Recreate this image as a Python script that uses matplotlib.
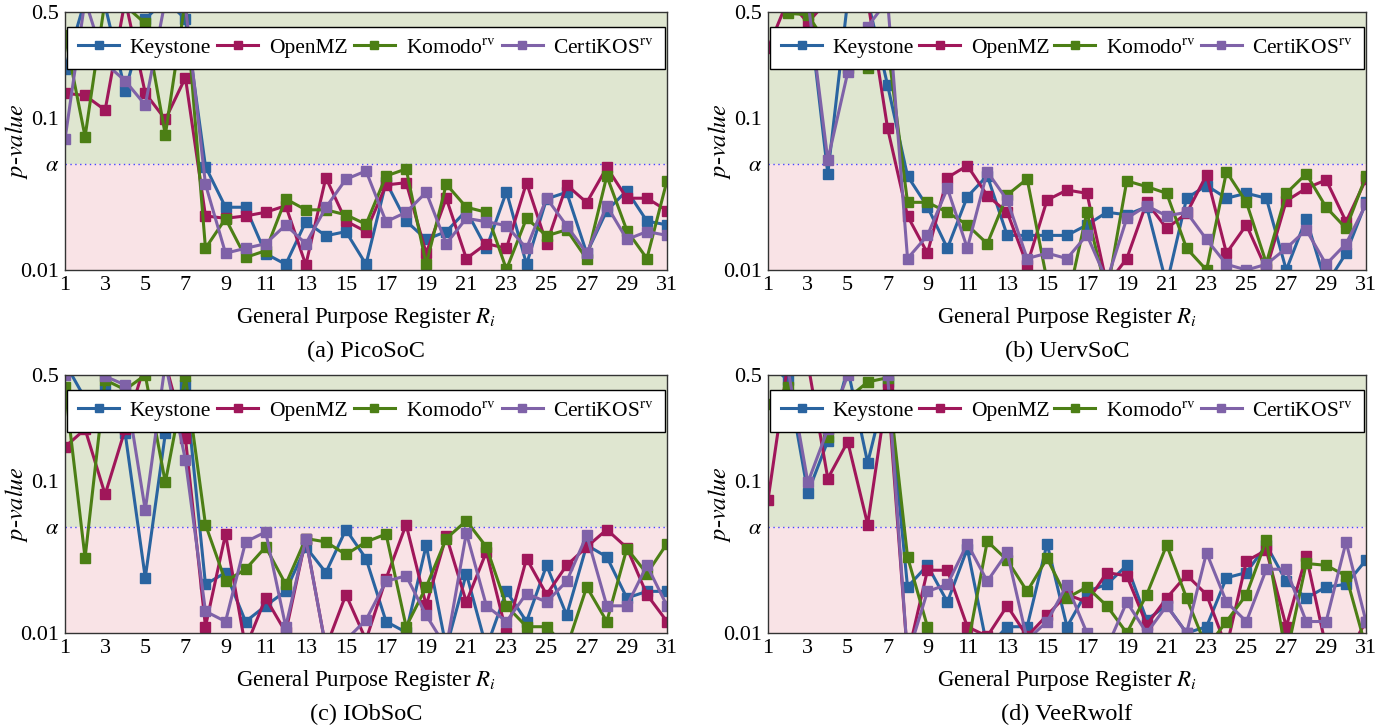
import matplotlib
matplotlib.use("Agg")
import matplotlib.pyplot as plt
import numpy as np

plt.rcParams['font.family'] = 'serif'
plt.rcParams['font.serif'] = ['Liberation Serif', 'DejaVu Serif']
plt.rcParams['mathtext.fontset'] = 'stix'

registers = list(range(1, 32))
series_names = ['Keystone', 'OpenMZ', r'Komodo$^{\mathrm{rv}}$', r'CertiKOS$^{\mathrm{rv}}$']
panel_titles = ['(a) PicoSoC', '(b) UervSoC', '(c) IObSoC', '(d) VeeRwolf']
alpha_level = 0.05
ytick_vals = [0.01, 0.05, 0.1, 0.5]
ytick_labels = ['0.01', r'$\alpha$', '0.1', '0.5']
xtick_vals = list(range(1, 32, 2))

# (a) PicoSoC
pico_keystone = [0.21, 0.6, 0.55, 0.152, 0.45, 0.6, 0.45, 0.048, 0.0259, 0.0259, 0.0128, 0.0109, 0.0208, 0.0168, 0.0179, 0.0109,
                 0.038, 0.021, 0.0159, 0.0179, 0.0246, 0.0139, 0.0328, 0.0109, 0.0294, 0.0325, 0.0129, 0.0246, 0.0333, 0.021, 0.0198]
pico_openmz = [0.146, 0.141, 0.113, 0.6, 0.146, 0.098, 0.185, 0.0227, 0.0219, 0.0227, 0.024, 0.0265, 0.0108, 0.0406, 0.021, 0.0179,
               0.0363, 0.0376, 0.0129, 0.0297, 0.0119, 0.0149, 0.0139, 0.0376, 0.0149, 0.0363, 0.0278, 0.0474, 0.0297, 0.0297, 0.0246]
pico_komodo = [0.353, 0.0755, 0.6, 0.55, 0.42, 0.0775, 0.6, 0.0139, 0.0218, 0.0121, 0.0134, 0.0294, 0.0249, 0.0249, 0.0231, 0.020,
               0.0416, 0.0463, 0.0109, 0.0367, 0.0259, 0.024, 0.0101, 0.0219, 0.0168, 0.0184, 0.0118, 0.0416, 0.0182, 0.0119, 0.0388]
pico_certikos = [0.0726, 0.6, 0.23, 0.176, 0.122, 0.6, 0.55, 0.0367, 0.0129, 0.0139, 0.0149, 0.0198, 0.0149, 0.0258, 0.0396, 0.0449,
                 0.0208, 0.024, 0.0325, 0.0149, 0.0219, 0.0208, 0.0196, 0.0139, 0.0297, 0.0196, 0.0129, 0.0265, 0.0159, 0.0179, 0.0169]

# (b) UervSoC
uerv_keystone = [0.6, 0.6, 0.6, 0.043, 0.6, 0.6, 0.165, 0.0416, 0.0261, 0.0139, 0.0304, 0.0418, 0.0169, 0.0169, 0.0169, 0.0169,
                 0.0198, 0.024, 0.0231, 0.0261, 0.008, 0.0297, 0.036, 0.0297, 0.032, 0.0297, 0.0100, 0.0218, 0.008, 0.0129, 0.0279]
uerv_openmz = [0.288, 0.6, 0.425, 0.6, 0.6, 0.6, 0.0857, 0.0227, 0.0129, 0.0406, 0.0487, 0.0309, 0.024, 0.0108, 0.0289, 0.0336,
               0.032, 0.008, 0.0119, 0.0279, 0.0188, 0.0236, 0.0423, 0.0129, 0.0198, 0.0101, 0.0285, 0.0345, 0.0392, 0.0208, 0.0396]
uerv_komodo = [0.6, 0.49, 0.48, 0.3, 0.213, 0.213, 0.3, 0.0279, 0.0279, 0.024, 0.0198, 0.0149, 0.0312, 0.0398, 0.0085, 0.006,
               0.024, 0.007, 0.0386, 0.0354, 0.032, 0.0139, 0.0100, 0.0444, 0.0279, 0.0111, 0.032, 0.043, 0.0259, 0.0188, 0.0416]
uerv_certikos = [0.6, 0.6, 0.6, 0.053, 0.2, 0.4, 0.6, 0.0119, 0.0169, 0.0345, 0.0139, 0.0444, 0.0289, 0.0119, 0.0129, 0.0119,
                 0.017, 0.0085, 0.0219, 0.0265, 0.0227, 0.024, 0.0159, 0.0109, 0.0100, 0.0109, 0.0139, 0.0184, 0.0109, 0.0149, 0.0271]

# (c) IObSoC
iob_keystone = [0.6, 0.35, 0.4, 0.206, 0.0231, 0.206, 0.43, 0.0209, 0.025, 0.0119, 0.0151, 0.0189, 0.0369, 0.025, 0.048, 0.0309,
                0.0119, 0.0101, 0.0379, 0.008, 0.0246, 0.008, 0.0188, 0.0119, 0.0279, 0.0131, 0.0379, 0.0317, 0.017, 0.0188, 0.0188]
iob_openmz = [0.168, 0.22, 0.0817, 0.22, 0.6, 0.6, 0.193, 0.011, 0.0448, 0.008, 0.017, 0.0101, 0.0419, 0.008, 0.0179, 0.009,
              0.0228, 0.0518, 0.0152, 0.0436, 0.016, 0.0342, 0.0100, 0.0309, 0.0179, 0.0279, 0.0369, 0.048, 0.0364, 0.0179, 0.0119]
iob_komodo = [0.418, 0.0312, 0.464, 0.4, 0.5, 0.098, 0.49, 0.0518, 0.0219, 0.0263, 0.0369, 0.0209, 0.0419, 0.0398, 0.0329, 0.0398,
              0.0448, 0.011, 0.0201, 0.0419, 0.0548, 0.0369, 0.0151, 0.011, 0.011, 0.008, 0.0201, 0.0119, 0.036, 0.0246, 0.0388]
iob_certikos = [0.5, 0.6, 0.49, 0.43, 0.0644, 0.6, 0.138, 0.0139, 0.0119, 0.0398, 0.0463, 0.011, 0.0417, 0.008, 0.009, 0.0122,
                0.0219, 0.0238, 0.0131, 0.008, 0.0456, 0.0151, 0.0119, 0.0182, 0.016, 0.0219, 0.044, 0.0151, 0.0151, 0.0279, 0.0151]

# (d) VeeRwolf
veer_keystone = [0.6, 0.463, 0.0838, 0.184, 0.55, 0.132, 0.45, 0.0201, 0.0279, 0.016, 0.036, 0.008, 0.011, 0.011, 0.0388, 0.011,
                 0.0188, 0.0209, 0.0279, 0.0122, 0.0152, 0.0100, 0.011, 0.0231, 0.025, 0.0379, 0.0219, 0.017, 0.0201, 0.0209, 0.0302]
veer_openmz = [0.075, 0.6, 0.6, 0.104, 0.182, 0.0518, 0.408, 0.007, 0.0259, 0.0259, 0.011, 0.0095, 0.0151, 0.0095, 0.0131, 0.0179,
               0.016, 0.025, 0.0238, 0.0113, 0.017, 0.0241, 0.0179, 0.008, 0.0298, 0.0351, 0.011, 0.0322, 0.008, 0.007, 0.0119]
veer_komodo = [0.32, 0.418, 0.3, 0.196, 0.35, 0.45, 0.48, 0.0317, 0.011, 0.007, 0.008, 0.0402, 0.0302, 0.0188, 0.031, 0.017,
               0.0201, 0.0151, 0.0100, 0.0179, 0.0379, 0.017, 0.008, 0.0119, 0.0179, 0.0408, 0.007, 0.0287, 0.0279, 0.0238, 0.008]
veer_certikos = [0.6, 0.55, 0.098, 0.22, 0.5, 0.6, 0.5, 0.007, 0.0188, 0.0209, 0.0388, 0.0219, 0.0339, 0.009, 0.0119, 0.0207,
                 0.0100, 0.008, 0.016, 0.0100, 0.0151, 0.0100, 0.0338, 0.016, 0.0119, 0.0263, 0.0263, 0.0119, 0.0119, 0.0398, 0.0119]

panels = [
    [pico_keystone, pico_openmz, pico_komodo, pico_certikos],
    [uerv_keystone, uerv_openmz, uerv_komodo, uerv_certikos],
    [iob_keystone, iob_openmz, iob_komodo, iob_certikos],
    [veer_keystone, veer_openmz, veer_komodo, veer_certikos],
]

colors = ['#2a64a0', '#a0175a', '#4c7f15', '#7f62a8']
green_bg = '#dfe6d0'
red_bg = '#f9e3e6'

W, H = 1396, 726
fig = plt.figure(figsize=(W / 100, H / 100), dpi=100)

boxes = [(65, 12, 667, 270), (768, 12, 1366, 270), (65, 375, 667, 633), (768, 375, 1366, 633)]

for k, (x0, y0, x1, y1) in enumerate(boxes):
    ax = fig.add_axes([x0 / W, 1 - y1 / H, (x1 - x0) / W, (y1 - y0) / H])
    ax.set_yscale('log')
    ax.set_xlim(1, 31)
    ax.set_ylim(0.01, 0.5)
    ax.axhspan(alpha_level, 1.0, color=green_bg, zorder=0, lw=0)
    ax.axhspan(0.001, alpha_level, color=red_bg, zorder=0, lw=0)
    ax.axhline(alpha_level, color='#4646ff', lw=1.0, ls=(0, (1, 2.5)), zorder=1)
    handles = []
    for s, vals in enumerate(panels[k]):
        h, = ax.plot(registers, vals, color=colors[s], lw=2.2, marker='s', ms=6.5,
                     label=series_names[s], zorder=3 + s)
        handles.append(h)
    ax.set_yticks(ytick_vals)
    ax.set_yticklabels(ytick_labels)
    ax.yaxis.set_minor_locator(matplotlib.ticker.NullLocator())
    ax.set_xticks(xtick_vals)
    ax.tick_params(axis='both', which='both', direction='in', length=0, labelsize=16, pad=4)
    for sp in ax.spines.values():
        sp.set_color('#333333')
        sp.set_linewidth(1.0)
        sp.set_zorder(10)
    ax.set_ylabel(r'$p$-$value$', fontsize=17.5)
    ax.yaxis.set_label_coords(-35 / (x1 - x0), 0.5)
    ax.set_xlabel(r'General Purpose Register $R_i$', fontsize=16.5)
    ax.xaxis.set_label_coords(0.5, -35 / (y1 - y0))
    ax.text(0.5, -81 / (y1 - y0), panel_titles[k], transform=ax.transAxes,
            ha='center', va='center', fontsize=17.5)
    leg = ax.legend(handles=handles, loc='upper left', bbox_to_anchor=(0.004, 0.0, 0.992, 0.942),
                    mode='expand', ncol=4, fontsize=15.5, frameon=True, fancybox=False,
                    framealpha=1.0, edgecolor='black', handlelength=1.9, handletextpad=0.5,
                    columnspacing=0.4, borderpad=0.5, borderaxespad=0.0, markerscale=0.85)
    leg.get_frame().set_linewidth(1.0)
    leg.set_zorder(20)

fig.savefig('out.png', dpi=100)
